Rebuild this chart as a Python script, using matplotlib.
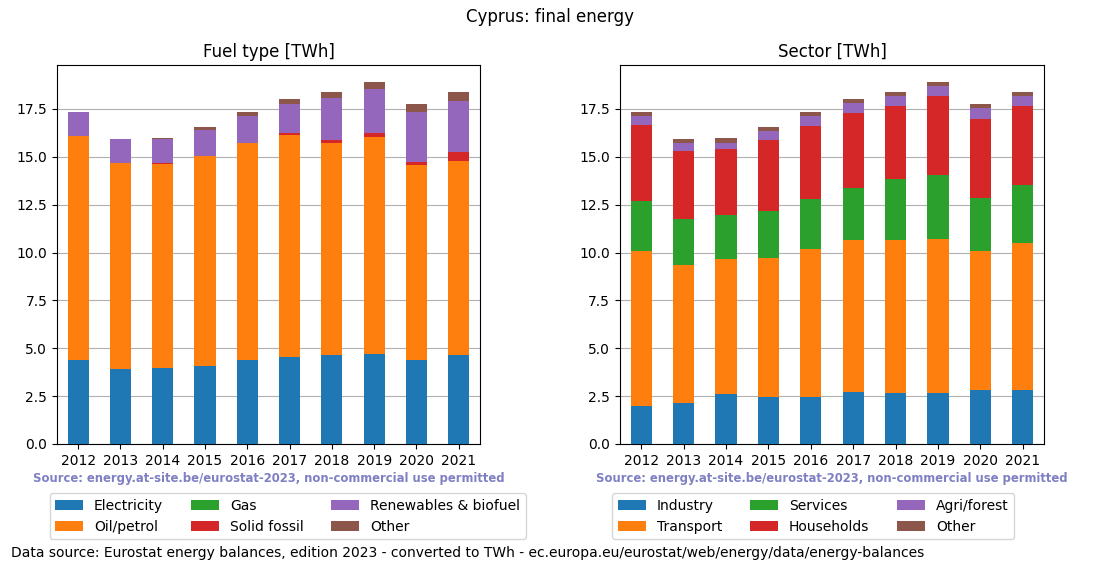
import numpy as np
import matplotlib
matplotlib.use('Agg')
import matplotlib.pyplot as plt

years = ['2012', '2013', '2014', '2015', '2016', '2017', '2018', '2019', '2020', '2021']

# fuel type, TWh
electricity = [4.39, 3.92, 3.97, 4.09, 4.39, 4.55, 4.65, 4.70, 4.39, 4.65]
oil_petrol = [11.70, 10.77, 10.67, 10.93, 11.34, 11.60, 11.08, 11.34, 10.19, 10.14]
gas = [0.0, 0.0, 0.0, 0.0, 0.0, 0.0, 0.0, 0.0, 0.0, 0.0]
solid_fossil = [0.0, 0.0, 0.05, 0.05, 0.0, 0.07, 0.16, 0.21, 0.16, 0.47]
renewables = [1.25, 1.25, 1.25, 1.34, 1.41, 1.56, 2.19, 2.29, 2.60, 2.66]
fuel_other = [0.0, 0.0, 0.05, 0.15, 0.20, 0.24, 0.32, 0.37, 0.42, 0.47]

# sector, TWh
industry = [2.00, 2.14, 2.62, 2.47, 2.47, 2.72, 2.67, 2.67, 2.82, 2.82]
transport = [8.07, 7.23, 7.02, 7.22, 7.69, 7.96, 7.96, 8.06, 7.25, 7.70]
services = [2.60, 2.40, 2.34, 2.46, 2.62, 2.67, 3.21, 3.32, 2.76, 3.02]
households = [4.01, 3.56, 3.42, 3.75, 3.85, 3.96, 3.83, 4.14, 4.16, 4.13]
agri_forest = [0.47, 0.41, 0.34, 0.47, 0.52, 0.52, 0.52, 0.52, 0.58, 0.52]
sector_other = [0.19, 0.20, 0.25, 0.19, 0.19, 0.19, 0.20, 0.20, 0.19, 0.20]

fuel_series = [('Electricity', electricity), ('Oil/petrol', oil_petrol), ('Gas', gas),
               ('Solid fossil', solid_fossil), ('Renewables & biofuel', renewables),
               ('Other', fuel_other)]
sector_series = [('Industry', industry), ('Transport', transport), ('Services', services),
                 ('Households', households), ('Agri/forest', agri_forest),
                 ('Other', sector_other)]
colors = ['#1f77b4', '#ff7f0e', '#2ca02c', '#d62728', '#9467bd', '#8c564b']
source = 'Source: energy.at-site.be/eurostat-2023, non-commercial use permitted'

fig = plt.figure(figsize=(11, 5.72), dpi=100)
ax1 = fig.add_axes([0.0518, 0.2238, 0.3845, 0.6626])
ax2 = fig.add_axes([0.5636, 0.2238, 0.3855, 0.6626])


def stacked(ax, series, title):
    x = np.arange(len(years))
    bottom = np.zeros(len(years))
    for (name, vals), c in zip(series, colors):
        ax.bar(x, vals, 0.5, bottom=bottom, color=c, label=name, zorder=3)
        bottom += np.array(vals)
    ax.set_xticks(x)
    ax.set_xticklabels(years)
    ax.set_xlim(-0.5, len(years) - 0.5)
    ax.set_ylim(0, bottom.max() * 1.047)
    ax.grid(axis='y', color='#b0b0b0', zorder=0)
    ax.set_title(title, fontsize=12)
    ax.text(0.5, -0.09, source, transform=ax.transAxes, ha='center', va='center',
            color='#7f7fc4', fontsize=8.4, fontweight='bold')
    ax.legend(loc='upper left', bbox_to_anchor=(-0.034, -0.111), ncol=3, fontsize=10)


stacked(ax1, fuel_series, 'Fuel type [TWh]')
stacked(ax2, sector_series, 'Sector [TWh]')

fig.suptitle('Cyprus: final energy', y=0.97, fontsize=12, va='center')
fig.text(0.01, 0.033, 'Data source: Eurostat energy balances, edition 2023 - converted to TWh - '
         'ec.europa.eu/eurostat/web/energy/data/energy-balances', fontsize=10, va='center')

fig.savefig('out.png', dpi=100)
